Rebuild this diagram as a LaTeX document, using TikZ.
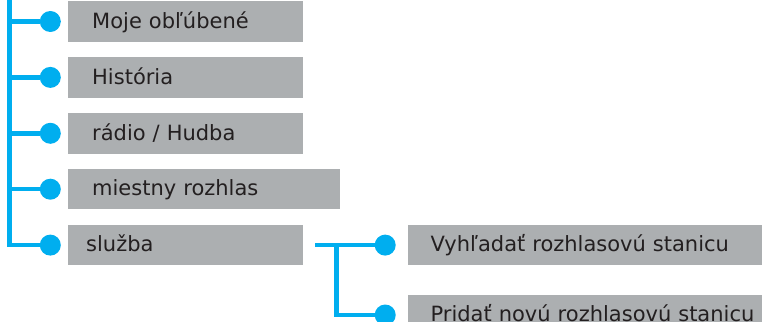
\documentclass[tikz,border=0pt]{standalone}
\usepackage{fontspec}
\setmainfont{DejaVu Sans}
\usetikzlibrary{positioning}
\definecolor{menublue}{HTML}{00AEEF}
\definecolor{menugray}{HTML}{ACAFB1}
\definecolor{menutext}{HTML}{231F20}
\tikzstyle{entry} = [rectangle, fill=menugray, text=menutext, minimum height=40.5pt, inner xsep=24pt, inner ysep=0pt, text width=187pt, text height=15.5pt, text depth=2pt, align=left, font=\fontsize{21}{24}\selectfont]
\tikzstyle{dot} = [circle, fill=menublue, minimum size=21pt, inner sep=0pt]
\tikzstyle{line} = [draw=menublue, line width=4.5pt]

\begin{document}
\begin{tikzpicture}[x=1pt, y=-1pt]
    \useasboundingbox (0,0) rectangle (762,321);

    % Place nodes
    \node [entry, anchor=west] (fav) at (68,21.5) {Moje obľúbené};
    \node [entry, below=15pt of fav.south west, anchor=north west] (hist) {História};
    \node [entry, below=15pt of hist.south west, anchor=north west] (radio) {rádio / Hudba};
    \node [entry, below=15pt of radio.south west, anchor=north west, text width=224pt] (local) {miestny rozhlas};
    \node [entry, below=15pt of local.south west, anchor=north west, inner xsep=18pt, text width=199pt] (srv) {služba};
    \node [entry, right=104pt of srv, inner xsep=23pt, text width=330pt] (search) {Vyhľadať rozhlasovú stanicu};
    \node [entry, below=29pt of search.south west, anchor=north west, inner xsep=23pt, text width=330pt] (add) {Pridať novú rozhlasovú stanicu};
    % Dots
    \node [dot, left=7pt of fav] (d1) {};
    \node [dot, left=7pt of hist] (d2) {};
    \node [dot, left=7pt of radio] (d3) {};
    \node [dot, left=7pt of local] (d4) {};
    \node [dot, left=7pt of srv] (d5) {};
    \node [dot, left=11.5pt of search] (sd1) {};
    \node [dot, left=11.5pt of add] (sd2) {};
    % Helper coordinates
    \coordinate (top) at (9.5,-5);
    \coordinate [right=12pt of srv] (fork);
    \coordinate [right=33pt of srv] (split);
    % Draw edges
    \path [line] (top) |- (d5);
    \foreach \i in {1,...,4}
        \path [line] (d\i) -- (d\i -| top);
    \path [line] (fork) -- (sd1);
    \path [line] (split) |- (sd2);
\end{tikzpicture}
\end{document}
